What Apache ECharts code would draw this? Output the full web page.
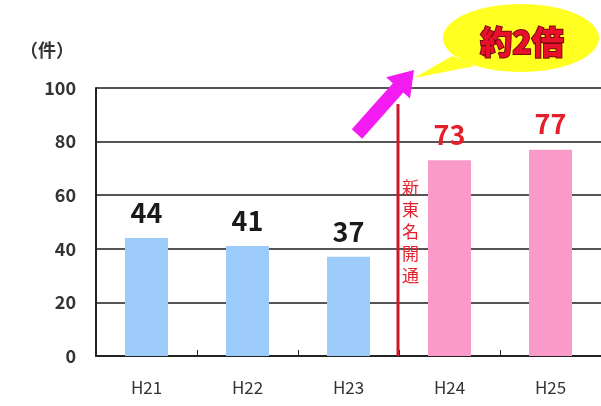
<!DOCTYPE html>
<html><head><meta charset="utf-8">
<script src="https://cdn.jsdelivr.net/npm/echarts@6/dist/echarts.min.js"></script>
<style>html,body{margin:0;padding:0;background:#fff}#c{width:601px;height:406px}</style>
</head><body><div id="c"></div>
<script>
const categories = ['H21','H22','H23','H24','H25'];
const values = [44, 41, 37, 73, 77];
const barColors = ['#9DCBFA','#9DCBFA','#9DCBFA','#F99AC8','#F99AC8'];
const labelColors = ['#1a1a1a','#1a1a1a','#1a1a1a','#E51E2B','#E51E2B'];
const yTicks = [0,20,40,60,80,100];
const unitLabel = '（件）';
const eventLabel = '新東名開通';
const calloutText = '約2倍';

const FONT = '"Noto Sans CJK JP", "Liberation Sans", sans-serif';
const chart = echarts.init(document.getElementById('c'), null, {renderer:'canvas'});
chart.setOption({
  animation:false,
  backgroundColor:'#fff',
  grid:{left:96, top:88, bottom:50, right:-6, containLabel:false},
  xAxis:{type:'category', data:categories,
    axisLine:{lineStyle:{color:'#222', width:2}},
    axisTick:{show:true, inside:true, length:6, alignWithLabel:false, lineStyle:{color:'#222'}},
    axisLabel:{margin:23, color:'#333', fontSize:17, fontFamily:FONT}},
  yAxis:{type:'value', min:0, max:100, interval:20,
    axisLine:{show:true, lineStyle:{color:'#222', width:2}},
    axisTick:{show:false},
    splitLine:{lineStyle:{color:'#555', width:2}},
    axisLabel:{margin:20, color:'#333', fontSize:18, fontWeight:'bold', fontFamily:FONT,
      formatter:v=>yTicks.includes(v)?String(v):''}},
  series:[{type:'bar', barWidth:43,
    data:values.map((v,i)=>({value:v, itemStyle:{color:barColors[i]},
      label:{color:labelColors[i]}})),
    label:{show:true, position:'top', distance:12, fontSize:27, fontWeight:'bold', fontFamily:FONT}}]
});

const p23 = chart.convertToPixel({xAxisIndex:0}, 'H23');
const p24 = chart.convertToPixel({xAxisIndex:0}, 'H24');
const lx = Math.round((p23 + p24)/2) - 1;
const yTop = chart.convertToPixel({yAxisIndex:0}, 94);
const yBot = chart.convertToPixel({yAxisIndex:0}, 0);

function arrowPoints(x1,y1,x2,y2,shaft,head,headLen){
  const dx=x2-x1, dy=y2-y1, L=Math.hypot(dx,dy), ux=dx/L, uy=dy/L, nx=-uy, ny=ux;
  const bx=x2-ux*headLen, by=y2-uy*headLen;
  return [[x1+nx*shaft/2,y1+ny*shaft/2],[bx+nx*shaft/2,by+ny*shaft/2],[bx+nx*head/2,by+ny*head/2],[x2,y2],
          [bx-nx*head/2,by-ny*head/2],[bx-nx*shaft/2,by-ny*shaft/2],[x1-nx*shaft/2,y1-ny*shaft/2]];
}

chart.setOption({graphic:[
  {type:'text', left:20, top:41, style:{text:unitLabel, font:'bold 18px '+FONT, fill:'#333'}},
  {type:'line', shape:{x1:lx, y1:yTop, x2:lx, y2:yBot}, style:{stroke:'#D0142C', lineWidth:3}, z:10},
  {type:'text', x:lx+4, y:177, style:{text:eventLabel.split('').join('\n'), font:'17px '+FONT, fill:'#E51E2B', lineHeight:22}, z:10},
  {type:'polygon', shape:{points:arrowPoints(357,134,414,70,14,32,24)}, style:{fill:'#F21BF2'}, z:10},
  {type:'polygon', shape:{points:[[452,56],[475,66],[414,78]]}, style:{fill:'#FFFF22'}, z:9},
  {type:'ellipse', shape:{cx:521, cy:38, rx:78, ry:34}, style:{fill:'#FFFF22'}, z:9},
  {type:'text', x:522, y:42, style:{text:calloutText, font:'900 32px '+FONT, fill:'#E8102A', stroke:'#7a0b10', lineWidth:2, align:'center', verticalAlign:'middle'}, z:11}
]});
</script></body></html>
